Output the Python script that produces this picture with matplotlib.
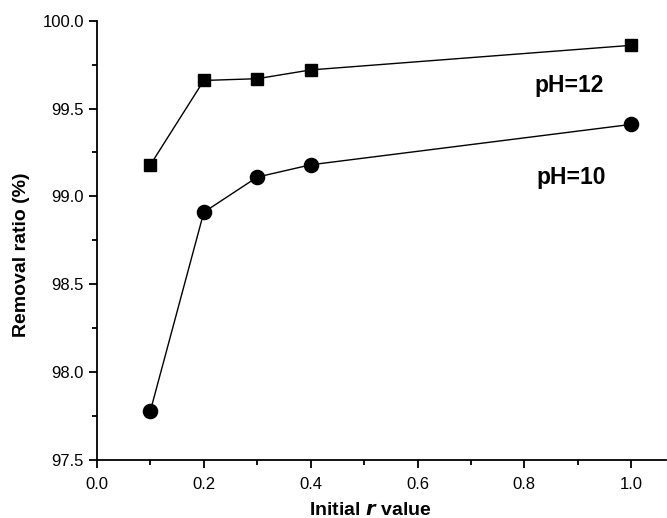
#!/usr/bin/env python3
import matplotlib
matplotlib.use('Agg')
import matplotlib.pyplot as plt
from matplotlib.ticker import MultipleLocator

plt.rcParams['font.family'] = ['Liberation Sans', 'DejaVu Sans']

# data
r_vals = [0.1, 0.2, 0.3, 0.4, 1.0]
ph12 = [99.18, 99.66, 99.67, 99.72, 99.86]
ph10 = [97.78, 98.91, 99.11, 99.18, 99.41]

fig = plt.figure(figsize=(6.67, 5.18), dpi=100)
ax = fig.add_axes([0.1454, 0.112, 0.853, 0.848])

ax.plot(r_vals, ph12, color='black', lw=1, marker='s', ms=8.5)
ax.plot(r_vals, ph10, color='black', lw=1, marker='o', ms=10.2)

ax.text(0.884, 99.634, 'pH=12', fontsize=16.5, fontweight='bold', ha='center', va='center')
ax.text(0.888, 99.105, 'pH=10', fontsize=16.5, fontweight='bold', ha='center', va='center')

ax.set_xlim(0, 1.065)
ax.set_ylim(97.5, 100.0)
ax.xaxis.set_major_locator(MultipleLocator(0.2))
ax.xaxis.set_minor_locator(MultipleLocator(0.1))
ax.yaxis.set_major_locator(MultipleLocator(0.5))
ax.yaxis.set_minor_locator(MultipleLocator(0.25))
ax.xaxis.set_major_formatter(plt.FormatStrFormatter('%.1f'))
ax.yaxis.set_major_formatter(plt.FormatStrFormatter('%.1f'))

for s in ['top', 'right']:
    ax.spines[s].set_visible(False)
for s in ['left', 'bottom']:
    ax.spines[s].set_linewidth(1.3)

ax.tick_params(which='major', direction='out', length=6, width=1.3, labelsize=12)
ax.tick_params(which='minor', direction='out', length=3.5, width=1.3)
ax.tick_params(axis='x', which='major', pad=6)

ax.set_xlabel('Initial $\\boldsymbol{r}$ value', fontsize=14, fontweight='bold', va='center')
ax.set_ylabel('Removal ratio (%)', fontsize=14, fontweight='bold', va='center')
ax.xaxis.set_label_coords(0.48, -0.114)
ax.yaxis.set_label_coords(-0.132, 0.467)

fig.savefig('out.png', dpi=100)
